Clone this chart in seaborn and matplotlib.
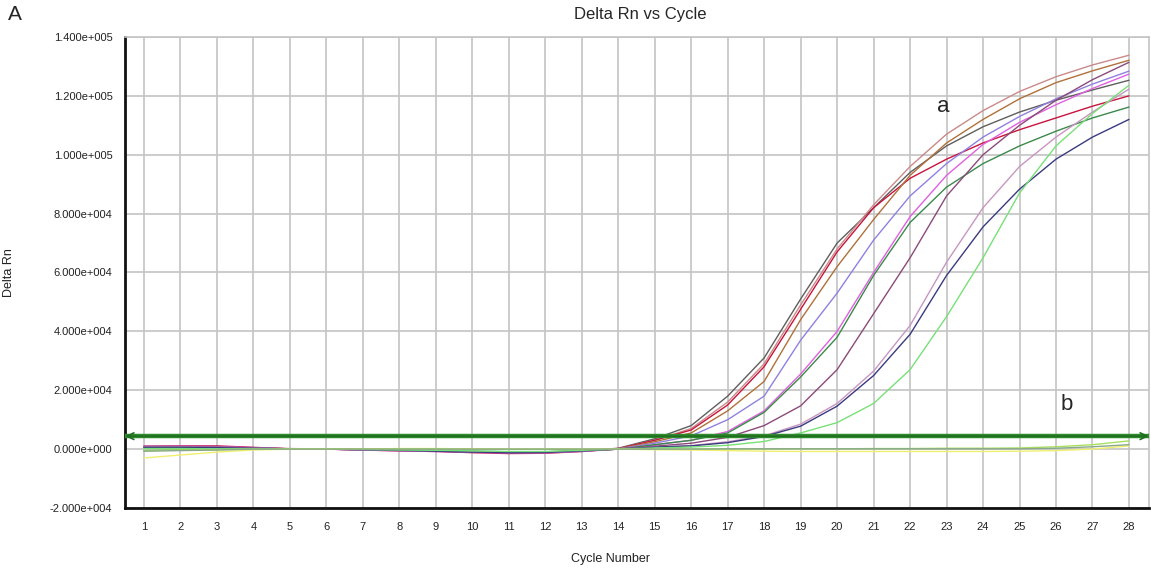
import numpy as np
import pandas as pd
import matplotlib
matplotlib.use("Agg")
import matplotlib.pyplot as plt
from matplotlib.ticker import FuncFormatter
import seaborn as sns

# ---- data: amplification curves (Delta Rn per cycle) ----
cycles = list(range(1, 29))

well_names = ["A1", "A2", "A3", "A4", "A5", "A6", "A7", "A8", "A9", "A10", "A11",
              "B1", "B2", "B3"]

rn_a1 = [800, 900, 900, 400, 0, 0, -100, -300, -500, -800, -1000, -1000, -600, 300,
         3500, 8000, 18000, 31000, 51000, 70000, 82000, 94000, 103000, 109500, 114500, 118500, 122000, 125300]
rn_a2 = [700, 800, 800, 500, 200, 0, -200, -400, -600, -900, -1100, -1100, -700, 200,
         3000, 7000, 16000, 29000, 49000, 68000, 83000, 96000, 107000, 115000, 121500, 126500, 130500, 133800]
rn_a3 = [1000, 1100, 1100, 600, 100, 0, -300, -600, -800, -1200, -1500, -1400, -800, 200,
         3000, 6500, 15000, 28000, 47500, 67000, 82000, 92000, 98500, 104000, 108500, 112500, 116500, 120000]
rn_a4 = [600, 700, 700, 400, 100, 0, -200, -400, -600, -900, -1100, -1100, -700, 100,
         2500, 5500, 13000, 23000, 44000, 62000, 78000, 93000, 104000, 112000, 119000, 124500, 128500, 132100]
rn_a5 = [500, 600, 600, 300, 100, 0, -200, -400, -600, -900, -1100, -1100, -600, 100,
         2000, 4500, 10000, 18000, 37000, 53000, 71000, 86000, 97000, 106000, 113000, 119000, 124000, 128400]
rn_a6 = [1000, 1000, 900, 500, 100, 0, -300, -600, -800, -1100, -1300, -1300, -800, 0,
         1500, 3000, 6000, 13000, 25500, 40000, 60000, 79000, 93000, 103500, 111000, 117000, 122500, 127400]
rn_a7 = [-500, -300, -100, 0, 0, 0, -100, -300, -500, -700, -900, -900, -500, 0,
         1500, 3000, 5500, 12500, 24500, 38000, 59000, 77000, 89000, 97000, 103000, 108000, 112500, 116200]
rn_a8 = [900, 900, 800, 400, 100, 0, -200, -500, -700, -1000, -1200, -1200, -700, 0,
         1000, 2000, 4000, 8000, 14700, 27000, 46000, 65000, 86000, 100000, 110000, 118500, 125500, 131400]
rn_a9 = [700, 700, 600, 300, 100, 0, -200, -400, -600, -900, -1100, -1000, -600, 0,
         700, 1200, 2500, 4500, 8500, 15500, 26500, 42000, 63500, 82000, 96000, 106000, 114500, 122300]
rn_a10 = [600, 600, 500, 300, 100, 0, -200, -400, -700, -1000, -1200, -1100, -600, 0,
          700, 1100, 2200, 4300, 7800, 14600, 25000, 39000, 59000, 75500, 88300, 98500, 106000, 112000]
rn_a11 = [200, 200, 100, 100, 0, 0, -100, -300, -400, -600, -800, -800, -400, 0,
          400, 700, 1300, 2600, 5500, 9000, 15500, 27000, 45000, 65000, 87000, 103000, 114000, 123600]
rn_b1 = [-3000, -2000, -1000, -300, 0, 0, 0, 200, 200, 100, 0, 0, 0, 0,
         -200, -300, -500, -700, -800, -800, -800, -800, -800, -800, -700, -500, 0, 1100]
rn_b2 = [-500, -300, -200, 0, 0, 0, 0, 100, 100, 0, 0, 0, 0, 0,
         0, 0, 100, 100, 100, 100, 200, 200, 300, 300, 400, 800, 1500, 2800]
rn_b3 = [-700, -500, -300, 0, 0, 0, 0, 0, 0, 0, 0, 0, 0, 0,
         0, 0, 100, 100, 100, 100, 100, 100, 100, 100, 100, 300, 800, 1500]

threshold = 4400

well_colors = ["#5e5e5e", "#c98a8a", "#c8143c", "#b0703a", "#9080e0", "#e060e0",
               "#3a8a4a", "#8b4a7a", "#c896c0", "#3a3a80", "#78e078",
               "#f0f070", "#a8e060", "#8aa88a"]

series = [rn_a1, rn_a2, rn_a3, rn_a4, rn_a5, rn_a6, rn_a7, rn_a8, rn_a9, rn_a10, rn_a11,
          rn_b1, rn_b2, rn_b3]

rows = []
for name, vals in zip(well_names, series):
    for c, v in zip(cycles, vals):
        rows.append({"Well": name, "Cycle": c, "Delta Rn": v})
df = pd.DataFrame(rows)

# ---- figure ----
sns.set_style("white")
plt.rcParams["font.family"] = ["Liberation Sans", "DejaVu Sans"]

fig = plt.figure(figsize=(11.51, 5.69), dpi=100)
ax = fig.add_axes([0.1086, 0.1072, 0.8897, 0.8278])

sns.lineplot(data=df, x="Cycle", y="Delta Rn", hue="Well", hue_order=well_names,
             palette=well_colors, linewidth=1.0, legend=False, ax=ax, zorder=3)

# threshold line with double-headed arrow
ax.axhline(threshold, color="#2e8b2e", lw=3.2, zorder=4)
ax.annotate("", xy=(0.49, threshold), xytext=(28.54, threshold),
            arrowprops=dict(arrowstyle="<->", color="#1f6f1f", lw=1.2,
                            mutation_scale=12, shrinkA=0, shrinkB=0),
            zorder=5)

ax.set_xlim(0.48, 28.55)
ax.set_ylim(-20000, 140000)
ax.set_xticks(cycles)
ax.set_yticks(np.arange(-20000, 140001, 20000))


def sci_fmt(v, pos):
    if v == 0:
        return "0.000e+000"
    e = int(np.floor(np.log10(abs(v))))
    m = v / 10 ** e
    sign = "+" if e >= 0 else "-"
    return f"{m:.3f}e{sign}{abs(e):03d}"


ax.yaxis.set_major_formatter(FuncFormatter(sci_fmt))
ax.grid(True, color="#c4c4c4", lw=1.2, zorder=0)
ax.set_axisbelow(True)
ax.tick_params(axis="both", length=0, labelsize=8, colors="#222222")
ax.tick_params(axis="x", pad=10)
ax.tick_params(axis="y", pad=9)

for side in ["left", "bottom"]:
    ax.spines[side].set_color("#111111")
    ax.spines[side].set_linewidth(2)
for side in ["top", "right"]:
    ax.spines[side].set_color("#c4c4c4")
    ax.spines[side].set_linewidth(1.2)

ax.set_xlabel("Cycle Number", fontsize=9, color="#222222")
ax.set_ylabel("Delta Rn", fontsize=9, color="#222222")
ax.xaxis.set_label_coords(0.474, -0.095)
ax.yaxis.set_label_coords(-0.107, 0.5)

fig.text(0.556, 0.974, "Delta Rn vs Cycle", ha="center", va="center", fontsize=12)
fig.text(0.013, 0.974, "A", ha="center", va="center", fontsize=15)

ax.text(22.9, 116500, "a", ha="center", va="center", fontsize=16)
ax.text(26.3, 15300, "b", ha="center", va="center", fontsize=16)

fig.savefig("out.png", dpi=100)
